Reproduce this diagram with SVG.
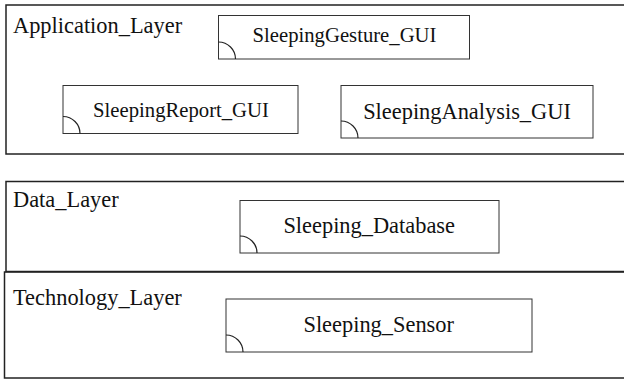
<svg xmlns="http://www.w3.org/2000/svg" width="624" height="379" viewBox="0 0 624 379">
<style>
.layer{fill:none;stroke:#222;stroke-width:1.5}
.node rect{fill:#fff;stroke:#333;stroke-width:1}
.node path{fill:none;stroke:#222;stroke-width:1.2}
text{font-size:20.7px;fill:#111}
.lt,.big{font-size:22.4px}
.c{text-anchor:middle}
</style>
<rect width="624" height="379" fill="#fff"/>
<g font-family="'Liberation Serif', 'Times New Roman', Times, 'DejaVu Serif', serif">
<g id="Application_Layer">
<rect class="layer" x="6" y="5" width="630" height="149"/>
<text class="lt" x="13" y="33">Application_Layer</text>
</g>
<g id="Data_Layer">
<rect class="layer" x="6" y="181.5" width="630" height="90"/>
<text class="lt" x="13" y="207">Data_Layer</text>
</g>
<g id="Technology_Layer">
<rect class="layer" x="4.5" y="272" width="630" height="106"/>
<text class="lt" x="13" y="305">Technology_Layer</text>
</g>
<g id="SleepingGesture_GUI" class="node">
<rect x="218.5" y="15.5" width="251" height="43.5"/>
<path d="M218.5,42 A17,17 0 0 1 235.5,59"/>
<text class="c" x="344.5" y="42">SleepingGesture_GUI</text>
</g>
<g id="SleepingReport_GUI" class="node">
<rect x="63" y="85.5" width="235" height="48"/>
<path d="M63,116.5 A17,17 0 0 1 80,133.5"/>
<text class="c" x="181" y="117">SleepingReport_GUI</text>
</g>
<g id="SleepingAnalysis_GUI" class="node">
<rect x="341" y="85.5" width="252" height="52.5"/>
<path d="M341,121 A17,17 0 0 1 358,138"/>
<text class="c big" x="467" y="118.5">SleepingAnalysis_GUI</text>
</g>
<g id="Sleeping_Database" class="node">
<rect x="240" y="200.5" width="259" height="52.5"/>
<path d="M240,236 A17,17 0 0 1 257,253"/>
<text class="c big" x="369.2" y="233">Sleeping_Database</text>
</g>
<g id="Sleeping_Sensor" class="node">
<rect x="226" y="299" width="306" height="53"/>
<path d="M226,335 A17,17 0 0 1 243,352"/>
<text class="c big" x="378.7" y="332">Sleeping_Sensor</text>
</g>
</g>
<g id="connectors"/>
</svg>
